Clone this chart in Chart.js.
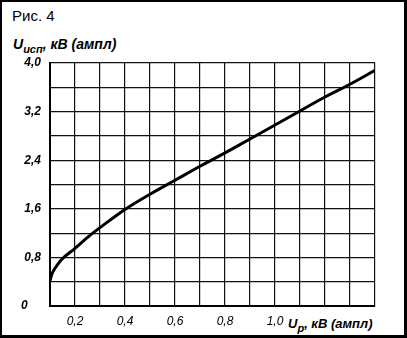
<!DOCTYPE html>
<html>
<head>
<meta charset="utf-8">
<script src="https://cdn.jsdelivr.net/npm/chart.js@4"></script>
<style>
  html, body { margin: 0; padding: 0; background: #fff; }
  #frame {
    position: relative; width: 407px; height: 338px; box-sizing: border-box;
    border: 2px solid #000; border-bottom-width: 3px; border-right-width: 3px;
    font-family: "Liberation Sans", Arial, sans-serif; overflow: hidden;
  }
  #chart { position: absolute; left: -2px; top: -2px; }
  .lbl { position: absolute; font-style: italic; color: #000; white-space: nowrap; }
  .lbl sub { font-size: 11px; vertical-align: -4px; }
  #fig { position: absolute; left: 10px; top: 5px; font-size: 15px; }
</style>
</head>
<body>
<div id="frame">
  <div id="fig">Рис. 4</div>
  <div class="lbl" id="ylab" style="left:11px; top:34px; font-size:14px; font-weight:bold;">U<sub>исп</sub>, кВ (ампл)</div>
  <div class="lbl" id="xlab" style="left:286px; top:314px; font-size:13px; font-weight:bold;">U<sub>р</sub>, кВ (ампл)</div>
  <canvas id="chart" width="407" height="338"></canvas>
</div>
<script>
// curve
const upValues = [0.1, 0.11, 0.13, 0.15, 0.2, 0.25, 0.3, 0.4, 0.5, 0.6, 0.7, 0.8, 0.9, 1.0, 1.1, 1.2, 1.3, 1.4];
const uispValues = [0.42, 0.55, 0.68, 0.78, 0.95, 1.13, 1.29, 1.59, 1.84, 2.07, 2.30, 2.52, 2.75, 2.98, 3.21, 3.44, 3.65, 3.88];

const xTickValues = [0.2, 0.4, 0.6, 0.8, 1.0];
const xTickLabels = ['0,2', '0,4', '0,6', '0,8', '1,0'];
const yTickValues = [0, 0.8, 1.6, 2.4, 3.2, 4.0];
const yTickLabels = ['0    ', '0,8', '1,6', '2,4', '3,2', '4,0'];

const points = upValues.map((x, i) => ({ x: x, y: uispValues[i] }));

function findLabel(vals, labels, v) {
    const i = vals.findIndex(t => Math.abs(t - v) < 1e-6);
    return i >= 0 ? labels[i] : '';
}

const gridColor = '#111';
const ctx = document.getElementById('chart').getContext('2d');
new Chart(ctx, {
    type: 'scatter',
    data: {
        datasets: [{
            data: points,
            showLine: true,
            borderColor: '#000',
            borderWidth: 3,
            pointRadius: 0,
            tension: 0.4
        }]
    },
    options: {
        responsive: false,
        animation: false,
        layout: { padding: { left: 0, top: 63, right: 32, bottom: 0 } },
        plugins: { legend: { display: false }, tooltip: { enabled: false } },
        scales: {
            x: {
                type: 'linear',
                min: 0.1,
                max: 1.4,
                afterFit: s => { s.height = 32; },
                grid: { color: gridColor, lineWidth: 1.2, drawTicks: false },
                border: { color: '#000', width: 2 },
                ticks: {
                    stepSize: 0.1,
                    autoSkip: false,
                    maxRotation: 0,
                    padding: 8,
                    color: '#000',
                    font: { family: 'Liberation Sans', size: 12, style: 'italic' },
                    callback: v => findLabel(xTickValues, xTickLabels, v)
                }
            },
            y: {
                min: 0,
                max: 4.0,
                afterFit: s => { s.width = 50; },
                grid: { color: gridColor, lineWidth: 1.2, drawTicks: false },
                border: { color: '#000', width: 2 },
                ticks: {
                    stepSize: 0.4,
                    autoSkip: false,
                    padding: 9,
                    color: '#000',
                    font: { family: 'Liberation Sans', size: 12, style: 'italic', weight: 'bold' },
                    callback: v => findLabel(yTickValues, yTickLabels, v)
                }
            }
        }
    }
});
</script>
</body>
</html>
